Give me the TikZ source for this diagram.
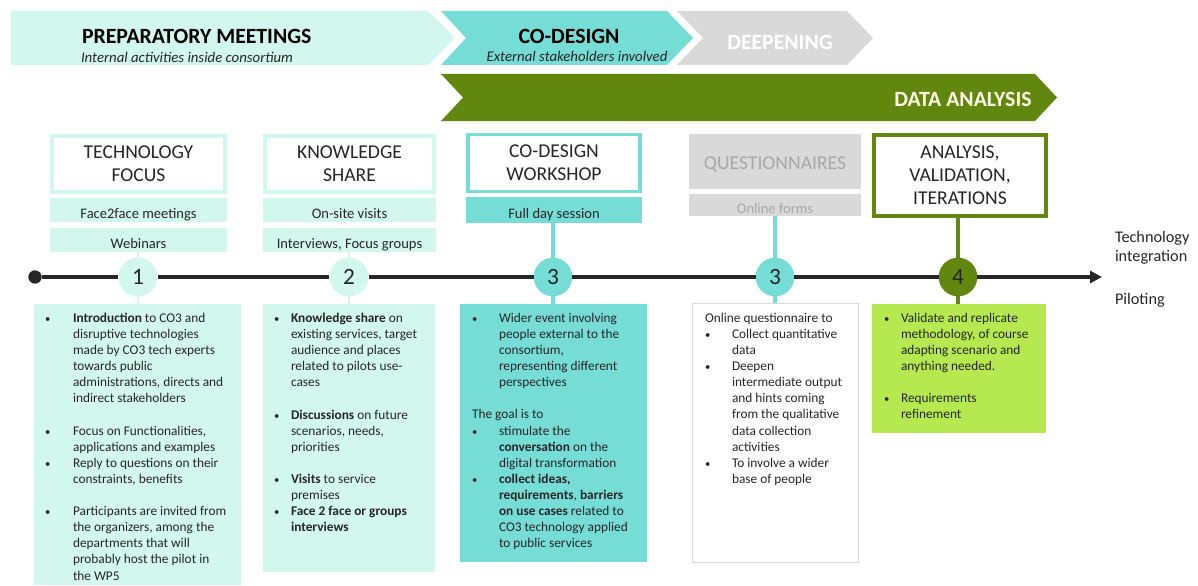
\documentclass[tikz,border=0pt]{standalone}
\usepackage{fontspec}
\setmainfont{Carlito}
\usetikzlibrary{arrows.meta,calc}
\definecolor{lightmint}{HTML}{D2F7EE}
\definecolor{teal}{HTML}{76DDD6}
\definecolor{olive}{HTML}{61870F}
\definecolor{lime}{HTML}{B5E94F}
\definecolor{greyfill}{HTML}{D9D9D9}
\definecolor{greytext}{HTML}{A8A8A8}
\definecolor{ink}{HTML}{262626}
\newcommand{\fsz}[2]{\fontsize{#1}{#2}\selectfont}
\newlength{\bind}
\newcommand{\bu}{\makebox[\bind][l]{\fsz{8}{8}•}}
\newcommand{\ct}{\hspace*{\bind}}
\tikzset{
  x=0.75pt,y=-0.75pt,
  every node/.style={inner sep=0pt,outer sep=0pt,text=ink},
  headtitle/.style={font=\bfseries\fsz{16.3}{18},text=black},
  headsub/.style={font=\itshape\fsz{11.1}{12},text=ink},
  boxtitle/.style={align=center,font=\fsz{14.7}{17.2},text=ink},
  sub/.style={font=\fsz{10.9}{12},text=ink,text height=12pt,text depth=0pt},
  body/.style={anchor=north west,align=left,font=\fsz{10}{12.08},text=ink},
  numc/.style={circle,minimum size=29pt,font=\fsz{17.5}{18}},
  link/.style={line width=2.6pt},
  thinlink/.style={line width=1pt,lightmint},
  axis/.style={line width=3.3pt,color=ink},
}
\newcommand{\bx}[7]{% name x0 y0 x1 y1 style text
  \pgfmathsetmacro{\bw}{(#4-#2)*0.75}\pgfmathsetmacro{\bh}{(#5-#3)*0.75}
  \node[rectangle,minimum width=\bw pt,minimum height=\bh pt,anchor=north west,#6] (#1) at (#2,#3) {#7};}
\begin{document}
\begin{tikzpicture}
\useasboundingbox (0,0) rectangle (1198,585);
% phase chevrons
\fill[lightmint] (11,11) -- (428,11) -- (455,38) -- (428,65) -- (11,65) -- cycle;
\fill[teal] (441,11) -- (667,11) -- (693,38) -- (667,65) -- (441,65) -- (466,38) -- cycle;
\fill[greyfill] (677,11) -- (847,11) -- (873,38) -- (847,65) -- (677,65) -- (703,38) -- cycle;
\fill[olive] (441,74) -- (1035,74) -- (1057,97.5) -- (1035,121) -- (441,121) -- (463,97.5) -- cycle;
\node[headtitle,anchor=west] (tprep) at (82,36) {PREPARATORY MEETINGS};
\node[headsub,anchor=west] (sprep) at (81,57) {Internal activities inside consortium};
\node[headtitle] (tco) at (569,36) {CO-DESIGN};
\node[headsub] (sco) at (577,56) {External stakeholders involved};
\node[headtitle,text=white] (tdeep) at (780,42) {DEEPENING};
\node[headtitle,text=white!90!yellow] (tdata) at (963,99) {DATA ANALYSIS};
% header boxes
\bx{h1}{52}{136}{225}{192}{draw=lightmint,line width=3pt,fill=white,boxtitle}{TECHNOLOGY\\FOCUS}
\bx{a1}{50}{198}{227}{222}{fill=lightmint,sub}{Face2face meetings}
\bx{b1}{50}{228}{227}{252}{fill=lightmint,sub}{Webinars}
\bx{h2}{265}{136}{434}{192}{draw=lightmint,line width=3pt,fill=white,boxtitle}{KNOWLEDGE\\SHARE}
\bx{a2}{263}{198}{436}{222}{fill=lightmint,sub}{On-site visits}
\bx{b2}{263}{228}{436}{252}{fill=lightmint,sub}{Interviews, Focus groups}
\bx{h3}{468}{134.5}{640}{191.5}{draw=teal,line width=2.6pt,fill=white,boxtitle}{CO-DESIGN\\WORKSHOP}
\bx{a3}{466}{197}{642}{223}{fill=teal,sub}{Full day session}
\bx{h4}{689}{134}{861}{189}{fill=greyfill,boxtitle,text=greytext,text height=12pt,text depth=0pt}{QUESTIONNAIRES}
\bx{a4}{689}{194}{861}{216}{fill=greyfill,sub,text=greytext}{Online forms}
\bx{h5}{874}{135}{1046}{216}{draw=olive,line width=2.8pt,fill=white,boxtitle}{ANALYSIS,\\VALIDATION,\\ITERATIONS}
% panels
\bx{p1}{34}{304}{241}{585}{fill=lightmint}{}
\bx{p2}{263}{304}{435}{572}{fill=lightmint}{}
\bx{p3}{460}{304}{647}{562}{fill=teal}{}
\bx{p4}{692}{303}{858}{562}{draw=black!15,line width=0.75pt,fill=white}{}
\bx{p5}{872}{304}{1046}{433}{fill=lime}{}
% timeline
\node[circle,fill=ink,minimum size=10pt] (start) at (35,277) {};
\coordinate (end) at (1102,277);
\node[numc,fill=lightmint] (c1) at (138,277) {1};
\node[numc,fill=lightmint] (c2) at (349,277) {2};
\node[numc,fill=teal] (c3) at (553,277) {3};
\node[numc,fill=teal] (c4) at (775,277) {3};
\node[numc,fill=olive] (c5) at (958,277) {4};
\draw[axis] (start) -- ($(c1.west)+(-1,0)$);
\draw[axis] ($(c1.east)+(1,0)$) -- ($(c2.west)+(-1,0)$);
\draw[axis] ($(c2.east)+(1,0)$) -- (c3.west);
\draw[axis] (c3.east) -- (c4.west);
\draw[axis] (c4.east) -- (c5.west);
\draw[axis,-{Triangle[length=9pt,width=9pt]}] (c5.east) -- (end);
% connectors
\draw[thinlink] (b1.south-|c1) -- (c1.north);
\draw[thinlink] (b2.south-|c2) -- (c2.north);
\draw[thinlink] (c1.south) -- (c1|-p1.north);
\draw[thinlink] (c2.south) -- (c2|-p2.north);
\draw[link,teal] (a3.south-|c3) -- (c3.north);
\draw[link,teal] (c3.south) -- (c3|-p3.north);
\draw[link,teal] (a4.south-|c4) -- (c4.north);
\draw[link,teal] (c4.south) -- (c4|-p4.north);
\draw[link,olive] (h5.south-|c5) -- (c5.north);
\draw[link,olive] (c5.south) -- (c5|-p5.north);
% panel text
\setlength{\bind}{21pt}
\node[body] (t1) at (45,313) {\bu\textbf{Introduction} to CO3 and\\
\ct disruptive technologies\\
\ct made by CO3 tech experts\\
\ct towards public\\
\ct administrations, directs and\\
\ct indirect stakeholders\\[12.08pt]
\bu Focus on Functionalities,\\
\ct applications and examples\\
\bu Reply to questions on their\\
\ct constraints, benefits\\[12.08pt]
\bu Participants are invited from\\
\ct the organizers, among the\\
\ct departments that will\\
\ct probably host the pilot in\\
\ct the WP5};
\setlength{\bind}{12.75pt}
\node[body] (t2) at (274,313) {\bu\textbf{Knowledge share} on\\
\ct existing services, target\\
\ct audience and places\\
\ct related to pilots use-\\
\ct cases\\[12.08pt]
\bu\textbf{Discussions} on future\\
\ct scenarios, needs,\\
\ct priorities\\[12.08pt]
\bu\textbf{Visits} to service\\
\ct premises\\
\bu\textbf{Face 2 face or groups}\\
\ct\textbf{interviews}};
\setlength{\bind}{20.25pt}
\node[body] (t3) at (472,313) {\bu Wider event involving\\
\ct people external to the\\
\ct consortium,\\
\ct representing different\\
\ct perspectives\\[12.08pt]
The goal is to\\
\bu stimulate the\\
\ct\textbf{conversation} on the\\
\ct digital transformation\\
\bu\textbf{collect ideas,}\\
\ct\textbf{requirements}, \textbf{barriers}\\
\ct\textbf{on use cases} related to\\
\ct CO3 technology applied\\
\ct to public services};
\node[body] (t4) at (705,313) {Online questionnaire to\\
\bu Collect quantitative\\
\ct data\\
\bu Deepen\\
\ct intermediate output\\
\ct and hints coming\\
\ct from the qualitative\\
\ct data collection\\
\ct activities\\
\bu To involve a wider\\
\ct base of people};
\setlength{\bind}{12.75pt}
\node[body] (t5) at (884,313) {\bu Validate and replicate\\
\ct methodology, of course\\
\ct adapting scenario and\\
\ct anything needed.\\[12.08pt]
\bu Requirements\\
\ct refinement};
% right labels
\node[anchor=west,align=left,font=\fsz{12.2}{14.2}] (tech) at (1115,247.5) {Technology\\integration};
\node[anchor=west,font=\fsz{12.2}{14.2}] (pil) at (1115,300) {Piloting};
\end{tikzpicture}
\end{document}
